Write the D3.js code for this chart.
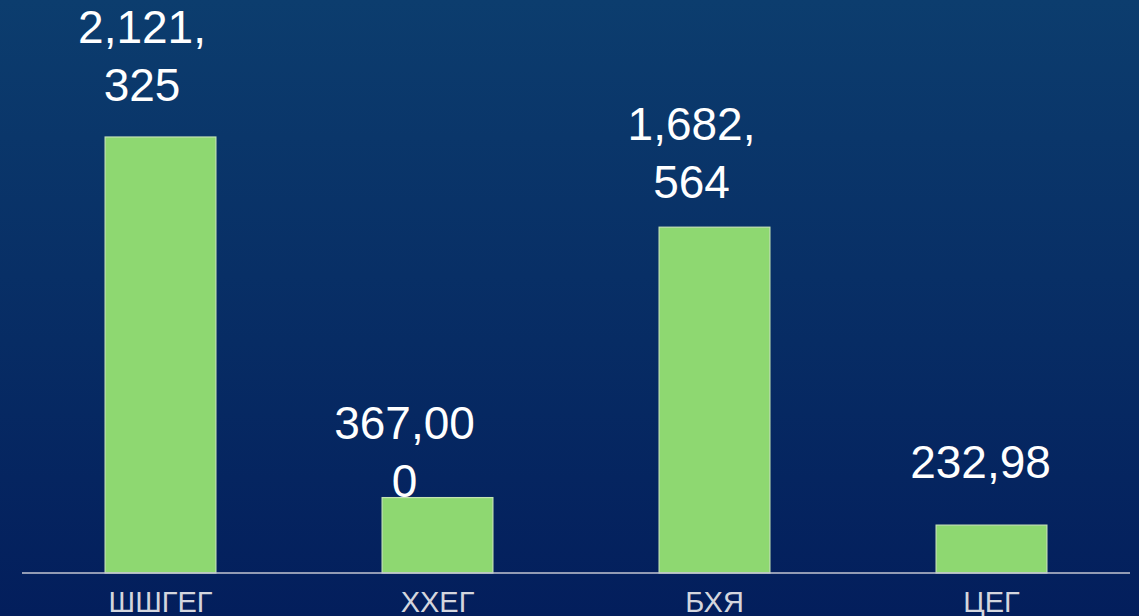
<!DOCTYPE html>
<html>
<head>
<meta charset="utf-8">
<script src="https://cdn.jsdelivr.net/npm/d3@7"></script>
<style>
  html, body { margin: 0; padding: 0; background: #06205e; }
  svg { display: block; }
</style>
</head>
<body>
<svg width="1139" height="616"></svg>
<script>
// chart data
const categories = ["ШШГЕГ", "ХХЕГ", "БХЯ", "ЦЕГ"];
const values = [2121325, 367000, 1682564, 232980];
// value labels as they wrap on the slide
const valueLabels = [["2,121,", "325"], ["367,00", "0"], ["1,682,", "564"], ["232,98"]];

let svg = d3.select("svg"),
  width = +svg.attr("width"),
  height = +svg.attr("height");

// background gradient
var defs = svg.append("defs");
var grad = defs.append("linearGradient")
  .attr("id", "bg")
  .attr("x1", 0).attr("y1", 0).attr("x2", 0).attr("y2", 1);
grad.append("stop").attr("offset", "0%").attr("stop-color", "#0c3d6e");
grad.append("stop").attr("offset", "100%").attr("stop-color", "#031e5c");

svg.append("rect")
  .attr("width", width)
  .attr("height", height)
  .attr("fill", "url(#bg)");

var x = d3.scaleBand()
  .domain(categories)
  .range([22, 1130])
  .paddingInner(0.6)
  .paddingOuter(0.3);

var y = d3.scaleLinear()
  .domain([0, d3.max(values)])
  .range([573, 137]);

var g = svg.append("g");

// bars
g.selectAll("rect.bar")
  .data(values)
  .enter()
  .append("rect")
  .attr("class", "bar")
  .attr("x", (d, i) => x(categories[i]))
  .attr("y", (d) => y(d))
  .attr("width", x.bandwidth())
  .attr("height", (d) => y(0) - y(d))
  .attr("fill", "#8ed871")
  .attr("stroke", "#c4e4b2")
  .attr("stroke-width", 1.2);

// baseline
g.append("line")
  .attr("x1", x.range()[0])
  .attr("x2", x.range()[1])
  .attr("y1", y(0))
  .attr("y2", y(0))
  .attr("stroke", "#c3c6d2")
  .attr("stroke-width", 1.5);

// category labels
var xAxis = d3.axisBottom(x).tickSize(0).tickPadding(0);
var ax = g.append("g")
  .attr("transform", "translate(0," + y(0) + ")")
  .call(xAxis);
ax.select(".domain").remove();
ax.selectAll("text")
  .attr("dy", null)
  .attr("y", 39)
  .attr("fill", "#d4d6de")
  .style("font-family", "'Liberation Sans', Arial, sans-serif")
  .style("font-size", "29px");

// label nudges, the slide's text boxes sit a bit off the bar centres
var nudgeX = [-18.5, -33, -23, -11];
var gapY = [36, 1, 29, 47];
var lineH = 58;

var labels = g.selectAll("text.val")
  .data(valueLabels)
  .enter()
  .append("text")
  .attr("class", "val")
  .attr("text-anchor", "middle")
  .attr("fill", "#ffffff")
  .style("font-family", "'Liberation Sans', Arial, sans-serif")
  .style("font-size", "46px");

labels.each(function (lines, i) {
  var cx = x(categories[i]) + x.bandwidth() / 2 + nudgeX[i];
  var last = y(values[i]) - gapY[i];
  d3.select(this)
    .selectAll("tspan")
    .data(lines)
    .enter()
    .append("tspan")
    .attr("x", cx)
    .attr("y", (d, k) => last - (lines.length - 1 - k) * lineH)
    .text((d) => d);
});
</script>
</body>
</html>
